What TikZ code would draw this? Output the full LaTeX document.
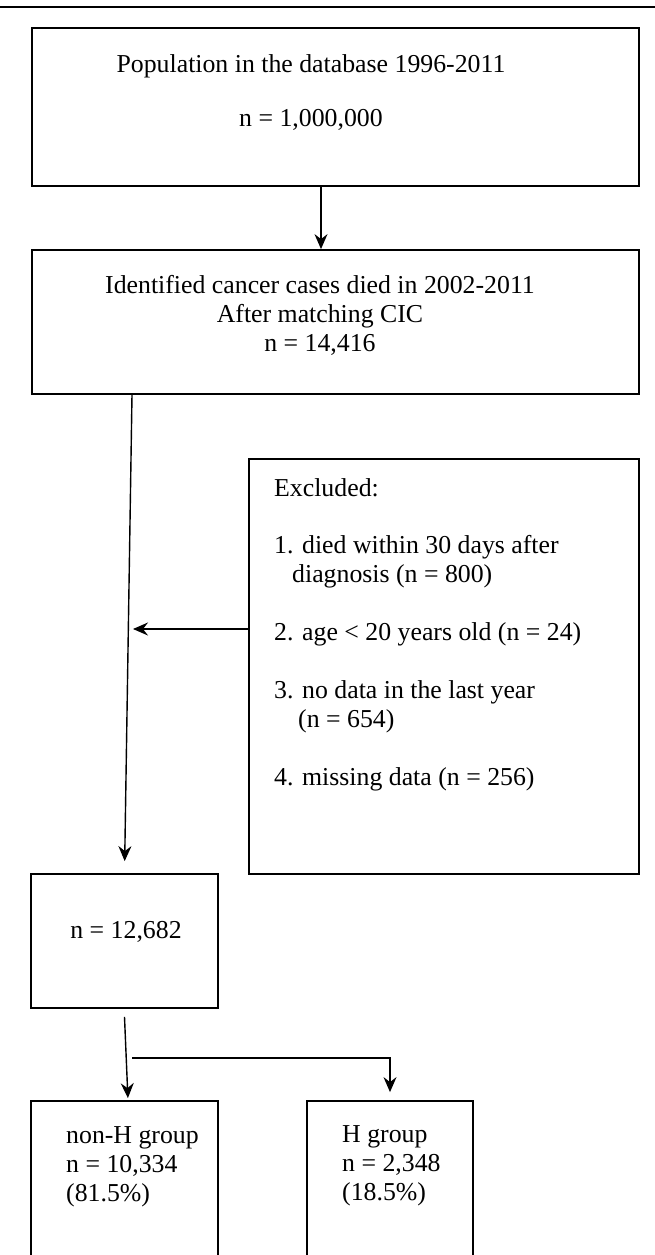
\documentclass[tikz,border=0pt]{standalone}
\usepackage{fontspec}
\setmainfont{Liberation Serif}
\usetikzlibrary{arrows,arrows.meta}

\tikzset{
  box/.style={draw, line width=1.8pt, inner sep=0pt},
  txt/.style={inner sep=0pt, font=\fontsize{25.8}{29}\selectfont},
  flow/.style={line width=1.4pt, -{Stealth[length=15pt,width=13pt,inset=5pt]}}
}

\begin{document}
\begin{tikzpicture}[x=1pt, y=-1pt]
  \useasboundingbox (0,0) rectangle (655,1255);
  \clip (0,0) rectangle (655,1255);
  \draw[line width=2pt] (0,7.5) -- (655,7.5);

  \node[box, minimum width=607pt, minimum height=158pt] (pop) at (335.5,107) {};
  \node[box, minimum width=607pt, minimum height=144pt] (ident) at (335.5,322) {};
  \node[box, minimum width=390pt, minimum height=415pt] (excl) at (444,666.5) {};
  \node[box, minimum width=187pt, minimum height=134pt] (rem) at (124.5,941) {};
  \node[box, minimum width=187pt, minimum height=161pt] (nonh) at (124.5,1181.5) {};
  \node[box, minimum width=166pt, minimum height=161pt] (hgrp) at (390,1181.5) {};

  \node[txt, align=center, anchor=north] (poptxt) at (311,54.5)
    {Population in the database 1996-2011\\[25pt] n = 1,000,000};
  \node[txt, align=center, anchor=north] (identtxt) at (320,275.5)
    {Identified cancer cases died in 2002-2011\\ After matching CIC\\ n = 14,416};
  \node[txt, align=left, anchor=north west] (excltxt) at (274,478.5)
    {Excluded:\\[28pt]
     1. died within 30 days after\\
     \hspace*{18pt}diagnosis (n = 800)\\[29pt]
     2. age < 20 years old (n = 24)\\[29pt]
     3. no data in the last year\\
     \hspace*{24pt}(n = 654)\\[29pt]
     4. missing data (n = 256)};
  \node[txt, anchor=base] (remtxt) at (126,938) {n = 12,682};
  \node[txt, align=left, anchor=north west] (nonhtxt) at (66,1126)
    {non-H group\\ n = 10,334\\ (81.5\%)};
  \node[txt, align=left, anchor=north west] (hgrptxt) at (342,1125)
    {H group\\ n = 2,348\\ (18.5\%)};

  \coordinate (exclend) at (133,629);
  \coordinate (split) at (132,1058);
  \draw[flow] ([xshift=-14.5pt]pop.south) -- ([xshift=-14.5pt]ident.north);
  \draw[flow, shorten >=12pt] ([xshift=-203.5pt]ident.south) -- (rem.north);
  \draw[flow] ([yshift=37.5pt]excl.west) -- (exclend);
  \draw[flow, shorten >=2pt] ([yshift=-8pt]rem.south) -- ([xshift=3.5pt]nonh.north);
  \draw[flow, shorten >=8pt] (split) -| (hgrp.north);
\end{tikzpicture}
\end{document}
